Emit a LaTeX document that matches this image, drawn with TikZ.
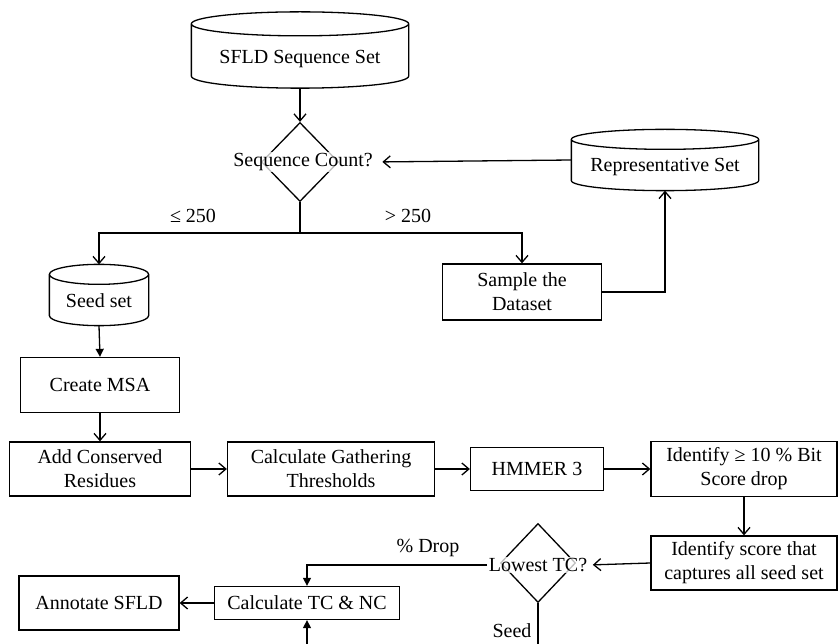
\documentclass[tikz,border=0pt]{standalone}
\usepackage{fontspec}
\setmainfont{Liberation Serif}
\usetikzlibrary{shapes.geometric,arrows.meta,calc}

% database symbol drawn round a plain node: name, ellipse y radius
\newcommand{\dbshape}[2]{%
  \draw let \p1=(#1.north west), \p2=(#1.north east) in
    ([yshift=-#2]#1.north west) -- ([yshift=#2]#1.south west)
    arc[start angle=180,end angle=360,x radius={(\x2-\x1)/2},y radius=#2]
    -- ([yshift=-#2]#1.north east)
    ([yshift=-#2]#1.north) ellipse[x radius={(\x2-\x1)/2},y radius=#2];}
% text lowered into the body of a database symbol
\newcommand{\dblower}[2]{\raisebox{-#1}[\height][\depth]{#2}}

\begin{document}
\begin{tikzpicture}[x=1pt,y=1pt,line width=1.3pt,
    txt/.style={font=\fontsize{20}{24}\selectfont,align=center},
    box/.style={txt,draw,rectangle,inner sep=0pt},
    dbase/.style={txt,inner sep=0pt},
    decide/.style={draw,diamond,inner sep=0pt,minimum width=77pt,minimum height=79pt},
    dtext/.style={txt,fill=white,fill opacity=0.75,text opacity=1,inner sep=1pt},
    lbl/.style={txt,inner sep=0pt},
    arr/.style={-{Straight Barb[length=7pt,width=12pt]}},
    farr/.style={-{Triangle[length=8pt,width=8pt]}}]
  \clip (0,0) rectangle (838,-644);
  \fill[white] (0,0) rectangle (838,-644);

  % top part
  \node[dbase,minimum width=216pt,minimum height=75pt] (sfld) at (300,-50) {\dblower{9pt}{SFLD Sequence Set}};
  \dbshape{sfld}{12pt}
  \node[decide] (seqcount) at (300,-162) {};
  \node[dtext] (seqtxt) at (303,-162) {Sequence Count?};
  \node[dbase,minimum width=186pt,minimum height=60pt] (rep) at (665,-160) {\dblower{7pt}{Representative Set}};
  \dbshape{rep}{10pt}
  \node[dbase,minimum width=98pt,minimum height=60pt] (seed) at (99,-295) {\dblower{6pt}{Seed set}};
  \dbshape{seed}{10pt}
  \node[box,minimum width=159pt,minimum height=56pt] (sample) at (522,-292) {Sample the\\Dataset};

  \coordinate (split) at (300,-233);
  \node[lbl] at (193,-216) {≤ 250};
  \node[lbl] at (408,-216) {> 250};

  % middle row
  \node[box,minimum width=159pt,minimum height=55pt] (msa) at (100,-385) {Create MSA};
  \node[box,minimum width=181pt,minimum height=54pt] (addres) at (100,-469) {Add Conserved\\Residues};
  \node[box,minimum width=207pt,minimum height=54pt] (gath) at (331,-469) {Calculate Gathering\\Thresholds};
  \node[box,minimum width=133pt,minimum height=43pt] (hmmer) at (537,-469) {HMMER 3};
  \node[box,minimum width=186pt,minimum height=55pt] (idbit) at (744,-469) {Identify ≥ 10 \% Bit\\Score drop};

  % bottom row
  \node[box,minimum width=186pt,minimum height=54pt] (idscore) at (744,-563) {Identify score that\\captures all seed set};
  \node[decide,minimum width=75pt] (lowtc) at (538,-563) {};
  \node[dtext] (lowtxt) at (538,-565) {Lowest TC?};
  \node[box,minimum width=185pt,minimum height=33pt] (calctc) at (307,-603) {Calculate TC \& NC};
  \node[box,minimum width=160pt,minimum height=54pt] (annot) at (99,-603) {Annotate SFLD};
  \node[lbl] at (428,-548) {\% Drop};
  \node[lbl] at (512,-631) {Seed};

  \draw[arr] (sfld.south) -- (seqcount.north);
  \draw (seqcount.south) -- (split);
  \draw[arr] (split) -| (seed.north);
  \draw[arr] (split) -| (sample.north);
  \draw[arr] (sample.east) -| (rep.south);
  \draw[arr,shorten >=8pt] (rep.west) -- (seqtxt.east);
  \draw[farr] (seed.south) -- (msa.north);
  \draw[arr] (msa.south) -- (addres.north);
  \draw[arr] (addres.east) -- (gath.west);
  \draw[arr] (gath.east) -- (hmmer.west);
  \draw[arr] (hmmer.east) -- (idbit.west);
  \draw[arr] (idbit.south) -- (idscore.north);
  \draw[arr,shorten >=4pt] (idscore.west) -- (lowtxt.east);
  \draw[farr] (lowtxt.west) -| (calctc.north);
  \draw[arr] (calctc.west) -- (annot.east);
  \draw[farr] (lowtc.south) -- ++(0,-70) -| (calctc.south);
\end{tikzpicture}
\end{document}
